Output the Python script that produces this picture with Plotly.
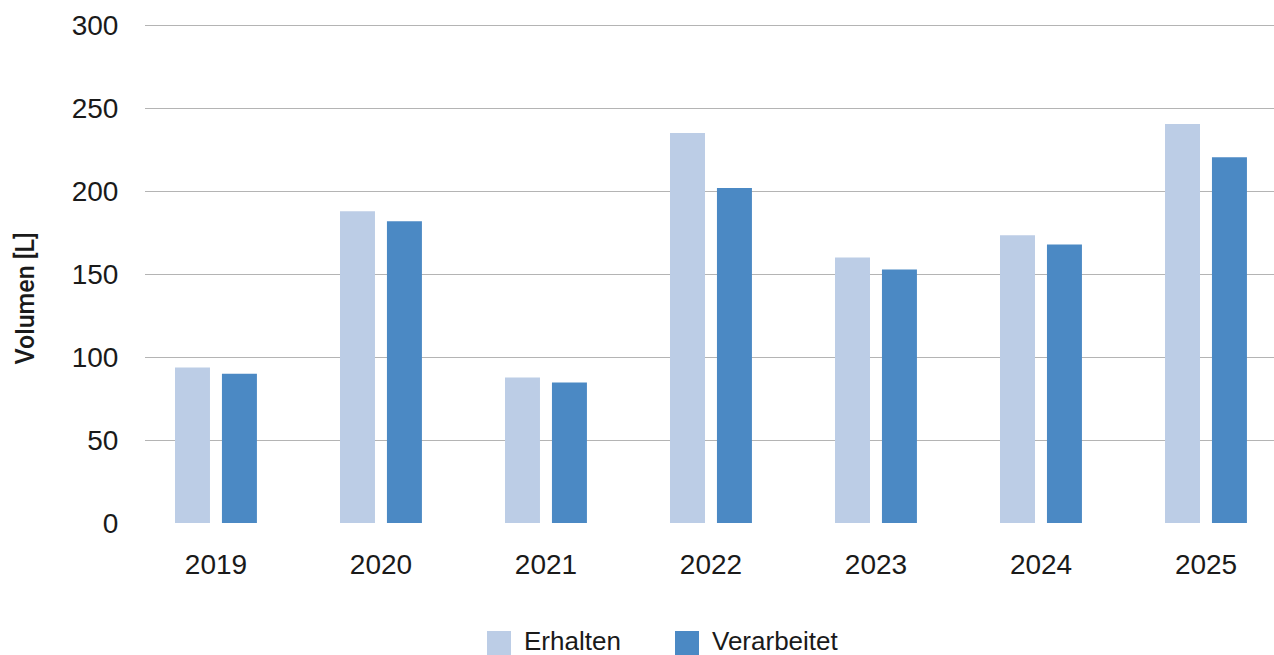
import plotly.graph_objects as go

years = ["2019", "2020", "2021", "2022", "2023", "2024", "2025"]
erhalten = [93.8, 188.1, 87.7, 235.2, 160.1, 173.6, 240.7]
verarbeitet = [90.1, 182.0, 84.7, 202.0, 152.9, 168.0, 220.6]
y_ticks = [0, 50, 100, 150, 200, 250, 300]

C_E = "#bccde6"
C_V = "#4b89c4"
FONT = "Liberation Sans"
TXT = "#1a1a1a"

L, T, B, W, H = 145, 24, 132, 1274, 655
PW, PH = W - L, H - T - B

fig = go.Figure()
fig.add_bar(x=years, y=erhalten, name="Erhalten", marker=dict(color=C_E, line=dict(width=0)),
            width=0.212, offset=-0.2485, showlegend=False)
fig.add_bar(x=years, y=verarbeitet, name="Verarbeitet", marker=dict(color=C_V, line=dict(width=0)),
            width=0.212, offset=0.036, showlegend=False)

fig.update_layout(
    width=W, height=H,
    margin=dict(l=L, r=0, t=T, b=B),
    paper_bgcolor="white", plot_bgcolor="white",
    font=dict(family=FONT, size=26, color=TXT),
    barmode="overlay",
    xaxis=dict(type="category", range=[-0.4303, 6.412], showgrid=False, zeroline=False,
               showline=False, ticks="outside", ticklen=16, tickcolor="rgba(0,0,0,0)",
               tickfont=dict(size=28, color=TXT)),
    yaxis=dict(range=[0, 301], tickvals=y_ticks, showgrid=True, gridcolor="#b4b4b4", gridwidth=1.3,
               zeroline=False, showline=False, ticks="outside", ticklen=20,
               tickcolor="rgba(0,0,0,0)", tickfont=dict(size=28, color=TXT)),
    showlegend=False,
)

# y-axis title
fig.add_annotation(text="Volumen [L]", xref="paper", yref="paper", x=0, y=0.5,
                   xanchor="center", yanchor="middle", xshift=-120, yshift=-25,
                   textangle=-90, showarrow=False,
                   font=dict(family="Roboto", size=25, color=TXT, weight=500))

# legend (drawn manually to match the large square swatches)
legend_items = [("Erhalten", C_E, 487), ("Verarbeitet", C_V, 675)]
base = H - B
for name, col, px in legend_items:
    fig.add_shape(type="rect", xref="paper", yref="paper",
                  x0=(px - L) / PW, x1=(px + 24 - L) / PW,
                  y0=(base - 655) / PH, y1=(base - 631) / PH,
                  fillcolor=col, line=dict(width=0))
    fig.add_annotation(text=name, xref="paper", yref="paper", x=(px + 36 - L) / PW,
                       y=(base - 641) / PH, xanchor="left", yanchor="middle", showarrow=False,
                       borderpad=0, font=dict(family=FONT, size=26, color=TXT))

fig.write_html("out.html")
